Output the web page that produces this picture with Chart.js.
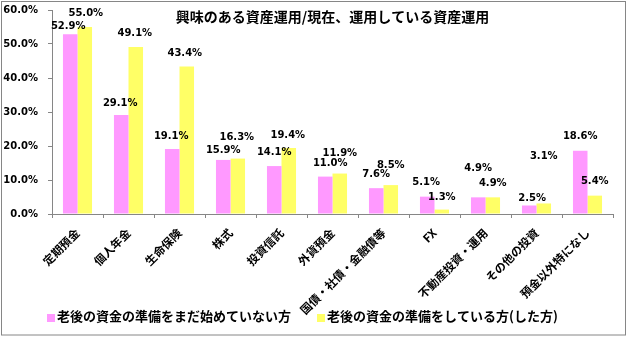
<!DOCTYPE html>
<html>
<head>
<meta charset="utf-8">
<script src="https://cdn.jsdelivr.net/npm/chart.js@4"></script>
<style>
  body { margin: 0; background: #fff; }
  canvas { display: block; }
</style>
</head>
<body>
<canvas id="assetChart" width="630" height="337"></canvas>
<script>
// data (%)
const categories = ["定期預金", "個人年金", "生命保険", "株式", "投資信託", "外貨預金",
  "国債・社債・金融債等", "FX", "不動産投資・運用", "その他の投資", "預金以外特になし"];
const notStarted = [52.9, 29.1, 19.1, 15.9, 14.1, 11.0, 7.6, 5.1, 4.9, 2.5, 18.6];
const preparing = [55.0, 49.1, 43.4, 16.3, 19.4, 11.9, 8.5, 1.3, 4.9, 3.1, 5.4];
const seriesNames = ["老後の資金の準備をまだ始めていない方", "老後の資金の準備をしている方(した方)"];
const yTicks = [0, 10, 20, 30, 40, 50, 60];
const titleText = "興味のある資産運用/現在、運用している資産運用";

// label nudges, like the hand-moved labels in the original
const labelLift = [
  [8, 12, 13, 10, 14, 13, 14, 14, 29, 7, 14],
  [14, 14, 13, 21, 13, 20, 20, 12, 14, 47, 14]
];
const labelShift = [
  [-2, -1, -1, 0, 0, 5, 0, -1, 0, 3, 0],
  [1, -1, -2, -1, -1, 0, 0, 0, 0, 0, 0]
];
const colors = ["#FF99FF", "#FFFF66"];

const numFont = "DejaVu Sans";
const jpFont = "'Noto Sans CJK JP'";

// white background, outer frame, title and the legend row
const frame = {
  id: "frame",
  beforeDraw(c) {
    const ctx = c.ctx;
    ctx.save();
    ctx.fillStyle = "#fff";
    ctx.fillRect(0, 0, c.width, c.height);
    ctx.restore();
  },
  afterDraw(c) {
    const ctx = c.ctx;
    ctx.save();
    ctx.strokeStyle = "#868686";
    ctx.lineWidth = 1;
    ctx.strokeRect(1.5, 1.5, 624, 333.5);

    ctx.fillStyle = "#000";
    ctx.font = "bold 14px " + jpFont;
    ctx.textAlign = "center";
    ctx.textBaseline = "middle";
    const a = c.chartArea;
    ctx.fillText(titleText, (a.left + a.right) / 2, 17);

    // legend
    ctx.font = "bold 13px " + jpFont;
    ctx.textAlign = "left";
    let x = 47;
    c.data.datasets.forEach((ds) => {
      ctx.fillStyle = ds.backgroundColor;
      ctx.fillRect(x, 314, 8, 8);
      ctx.fillStyle = "#000";
      ctx.fillText(ds.label, x + 10, 316);
      x += 10 + ctx.measureText(ds.label).width + 26;
    });
    ctx.restore();
  }
};

const barLabels = {
  id: "barLabels",
  afterDatasetsDraw(c) {
    const ctx = c.ctx;
    ctx.save();
    ctx.font = "bold 10px " + numFont;
    ctx.fillStyle = "#000";
    ctx.textAlign = "center";
    ctx.textBaseline = "middle";
    c.data.datasets.forEach((ds, i) => {
      c.getDatasetMeta(i).data.forEach((bar, j) => {
        ctx.fillText(ds.data[j].toFixed(1) + "%", bar.x + labelShift[i][j], bar.y - labelLift[i][j]);
      });
    });
    ctx.restore();
  }
};

new Chart(document.getElementById("assetChart"), {
  type: "bar",
  data: {
    labels: categories,
    datasets: [
      { label: seriesNames[0], data: notStarted, backgroundColor: colors[0] },
      { label: seriesNames[1], data: preparing, backgroundColor: colors[1] }
    ]
  },
  options: {
    responsive: false,
    animation: false,
    layout: { autoPadding: false, padding: { left: 0, top: 10, right: 17, bottom: 0 } },
    datasets: { bar: { barPercentage: 1, categoryPercentage: 0.57 } },
    scales: {
      x: {
        grid: { drawOnChartArea: false, tickLength: 4, color: "#868686" },
        border: { color: "#868686" },
        ticks: {
          minRotation: 45, maxRotation: 45, autoSkip: false, padding: 8,
          color: "#000", font: { family: jpFont, size: 11.5, weight: "bold" }
        },
        afterFit(s) { s.height = 123; }
      },
      y: {
        min: 0, max: 60,
        afterBuildTicks(s) { s.ticks = yTicks.map(v => ({ value: v })); },
        grid: { drawOnChartArea: false, tickLength: 4, color: "#868686" },
        border: { color: "#868686" },
        ticks: {
          padding: 10, color: "#000",
          font: { family: numFont, size: 10, weight: "bold" },
          callback: v => v.toFixed(1) + "%"
        },
        afterFit(s) { s.width = 52; s.paddingTop = 0; s.paddingBottom = 0; }
      }
    },
    plugins: {
      legend: { display: false },
      title: { display: false },
      tooltip: { enabled: false }
    }
  },
  plugins: [frame, barLabels]
});
</script>
</body>
</html>
